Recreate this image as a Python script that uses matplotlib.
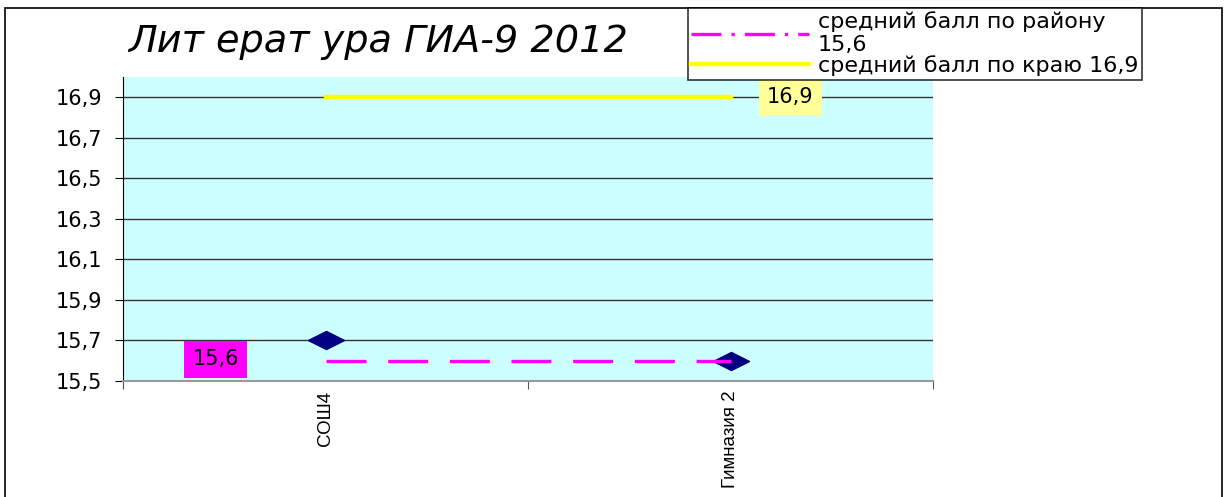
import matplotlib
matplotlib.use('Agg')
import matplotlib.pyplot as plt
from matplotlib.patches import Rectangle
from matplotlib.lines import Line2D
from matplotlib.path import Path

# data
schools = ['СОШ4', 'Гимназия 2']
school_scores = [15.7, 15.6]
district_avg = 15.6
region_avg = 16.9
district_label = 'средний балл по району\n15,6'
region_label = 'средний балл по краю 16,9'
title = 'Лит ерат ура ГИА-9 2012'
y_ticks = [15.5, 15.7, 15.9, 16.1, 16.3, 16.5, 16.7, 16.9]

W, H = 1228, 497
fig = plt.figure(figsize=(W / 100, H / 100), dpi=100)
fig.patch.set_facecolor('white')

# outer chart border
fig.add_artist(Rectangle((5 / W, -0.01), 1217 / W, 1 - 8 / H + 0.01,
                         transform=fig.transFigure, fill=False,
                         ec='black', lw=1.2))

ax = fig.add_axes([123 / W, 1 - 381 / H, 810 / W, 304 / H])
ax.set_facecolor('#CCFFFF')

x = list(range(len(schools)))

# flattened diamond marker
diamond = Path([(-1, 0), (0, 0.5), (1, 0), (0, -0.5), (-1, 0)],
               [Path.MOVETO, Path.LINETO, Path.LINETO, Path.LINETO, Path.CLOSEPOLY])

ax.plot(x, school_scores, linestyle='none', marker=diamond, markersize=26,
        color='#000080', zorder=3)

ax.plot([x[0], x[-1]], [district_avg] * 2, color='#FF00FF', lw=2.4,
        dashes=[12, 6.5], zorder=4)
ax.plot([x[0], x[-1]], [region_avg] * 2, color='#FFFF00', lw=3.2, zorder=4)

# data labels
ax.annotate('15,6', (x[0], district_avg), xytext=(-79, 1), textcoords='offset points',
            ha='center', va='center', fontsize=15,
            bbox=dict(boxstyle='square,pad=0.4', fc='#FF00FF', ec='none'), zorder=5)
ax.annotate('16,9', (x[-1], region_avg), xytext=(43, 0), textcoords='offset points',
            ha='center', va='center', fontsize=15,
            bbox=dict(boxstyle='square,pad=0.4', fc='#FFFF99', ec='none'), zorder=5)

ax.set_xlim(-0.5, len(schools) - 0.5)
ax.set_ylim(15.5, 17.0)
ax.set_yticks(y_ticks)
ax.set_yticklabels([f'{v:.1f}'.replace('.', ',') for v in y_ticks], fontsize=15)
ax.yaxis.grid(True, color='#333333', lw=1)
ax.set_axisbelow(True)

# category labels between boundary ticks
ax.set_xticks([i - 0.5 for i in range(len(schools) + 1)])
ax.set_xticklabels([])
ax.set_xticks(x, minor=True)
ax.set_xticklabels(schools, minor=True, rotation=90, fontsize=13.5,
                   family=['Liberation Sans', 'DejaVu Sans'])
ax.tick_params(axis='x', which='minor', length=0, pad=7)
ax.tick_params(axis='x', which='major', length=6, color='#555555')
ax.tick_params(axis='y', length=6, pad=9)

for s in ['top', 'right']:
    ax.spines[s].set_visible(False)
ax.spines['bottom'].set_color('#999999')
ax.spines['bottom'].set_linewidth(1.5)
ax.spines['left'].set_color('black')

fig.text(378 / W, 1 - 42 / H, title, ha='center', va='center', fontsize=27.5,
         style='italic')

# legend handles (district line shown as dash-dot in the legend)
h_d = Line2D([], [], color='#FF00FF', lw=2.4, dashes=[9, 3, 1, 3])
h_r = Line2D([], [], color='#FFFF00', lw=3.2)
leg = fig.legend(handles=[h_d, h_r], labels=[district_label, region_label],
                 loc='upper left', bbox_to_anchor=(688 / W, 1 - 8 / H), fontsize=16,
                 frameon=True, fancybox=False, borderpad=0.15, labelspacing=0.0,
                 handlelength=5.3, handletextpad=0.4, borderaxespad=0)
leg.get_frame().set_edgecolor('black')
leg.get_frame().set_linewidth(1.2)

fig.savefig('out.png', dpi=100)
